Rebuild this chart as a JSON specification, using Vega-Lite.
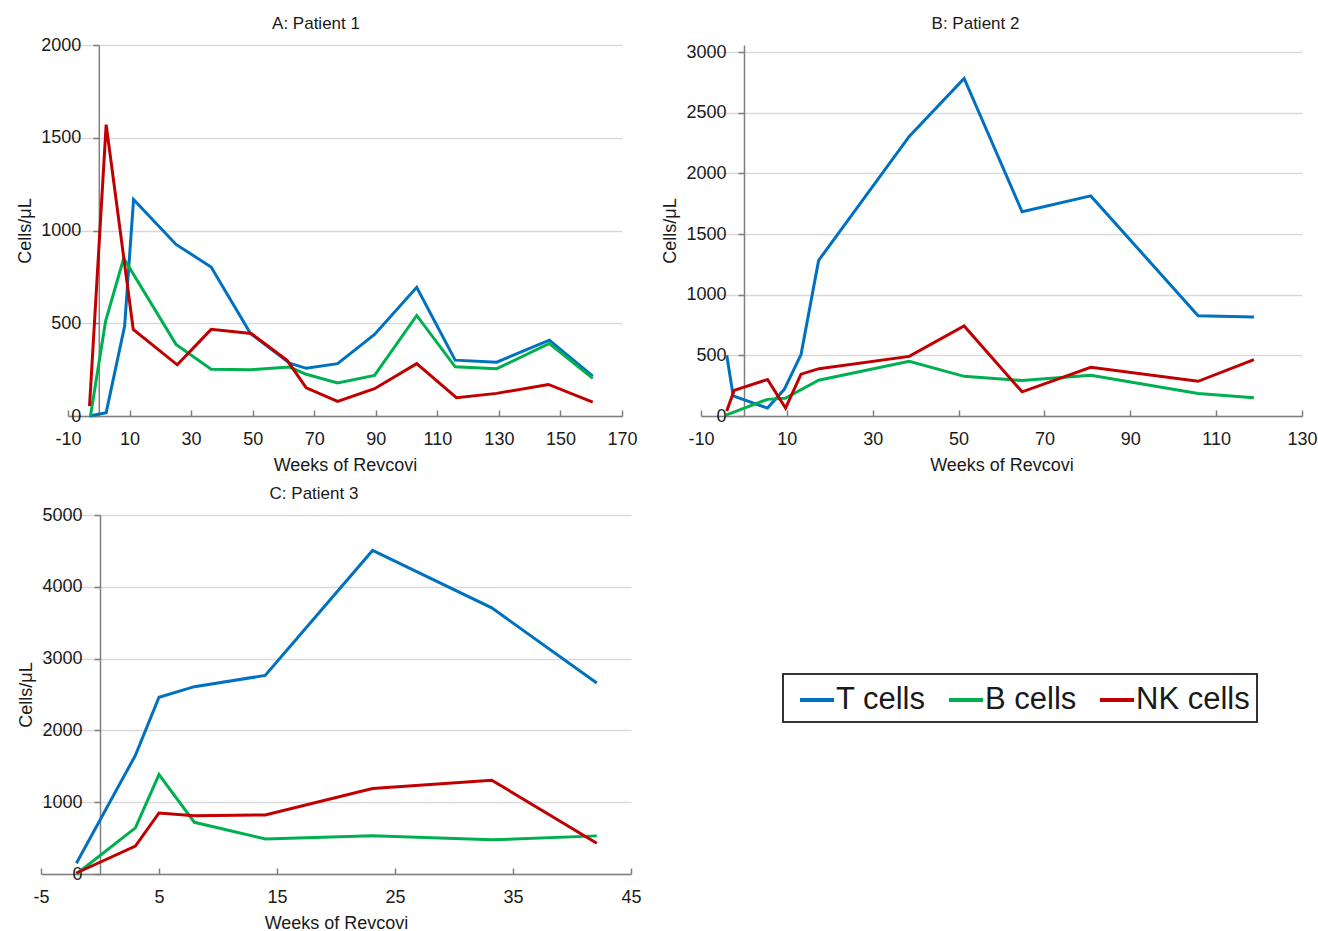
{
  "$schema": "https://vega.github.io/schema/vega-lite/v6.json",
  "background": "white",
  "padding": {"left": 15, "top": 14, "right": 0, "bottom": 0},
  "datasets": {
    "d": [
      {"p": "A", "c": "T cells", "w": -3, "v": 0},
      {"p": "A", "c": "T cells", "w": 2.4, "v": 18},
      {"p": "A", "c": "T cells", "w": 8.4, "v": 485},
      {"p": "A", "c": "T cells", "w": 11.3, "v": 1167},
      {"p": "A", "c": "T cells", "w": 25.1, "v": 925},
      {"p": "A", "c": "T cells", "w": 36.5, "v": 803},
      {"p": "A", "c": "T cells", "w": 49.3, "v": 445},
      {"p": "A", "c": "T cells", "w": 62, "v": 285},
      {"p": "A", "c": "T cells", "w": 67.4, "v": 257},
      {"p": "A", "c": "T cells", "w": 77.6, "v": 282},
      {"p": "A", "c": "T cells", "w": 89.6, "v": 440},
      {"p": "A", "c": "T cells", "w": 103.3, "v": 694},
      {"p": "A", "c": "T cells", "w": 115.8, "v": 301},
      {"p": "A", "c": "T cells", "w": 129.3, "v": 290},
      {"p": "A", "c": "T cells", "w": 146.4, "v": 409},
      {"p": "A", "c": "T cells", "w": 160.5, "v": 215},
      {"p": "A", "c": "B cells", "w": -2.7, "v": 0},
      {"p": "A", "c": "B cells", "w": 2.2, "v": 510},
      {"p": "A", "c": "B cells", "w": 8.1, "v": 850},
      {"p": "A", "c": "B cells", "w": 25.1, "v": 386},
      {"p": "A", "c": "B cells", "w": 36.5, "v": 252},
      {"p": "A", "c": "B cells", "w": 49.3, "v": 250},
      {"p": "A", "c": "B cells", "w": 62, "v": 264},
      {"p": "A", "c": "B cells", "w": 67.4, "v": 225},
      {"p": "A", "c": "B cells", "w": 77.6, "v": 178},
      {"p": "A", "c": "B cells", "w": 89.6, "v": 219},
      {"p": "A", "c": "B cells", "w": 103.3, "v": 542},
      {"p": "A", "c": "B cells", "w": 115.8, "v": 265},
      {"p": "A", "c": "B cells", "w": 129.3, "v": 255},
      {"p": "A", "c": "B cells", "w": 146.4, "v": 391},
      {"p": "A", "c": "B cells", "w": 160.5, "v": 203},
      {"p": "A", "c": "NK cells", "w": -3, "v": 54},
      {"p": "A", "c": "NK cells", "w": 2.4, "v": 1571},
      {"p": "A", "c": "NK cells", "w": 11.2, "v": 467},
      {"p": "A", "c": "NK cells", "w": 25.5, "v": 276},
      {"p": "A", "c": "NK cells", "w": 36.5, "v": 467},
      {"p": "A", "c": "NK cells", "w": 49.5, "v": 445},
      {"p": "A", "c": "NK cells", "w": 61.2, "v": 300},
      {"p": "A", "c": "NK cells", "w": 67.4, "v": 152},
      {"p": "A", "c": "NK cells", "w": 77.6, "v": 79},
      {"p": "A", "c": "NK cells", "w": 89.6, "v": 147},
      {"p": "A", "c": "NK cells", "w": 103.3, "v": 282},
      {"p": "A", "c": "NK cells", "w": 116.2, "v": 99},
      {"p": "A", "c": "NK cells", "w": 129.3, "v": 122},
      {"p": "A", "c": "NK cells", "w": 146.1, "v": 170},
      {"p": "A", "c": "NK cells", "w": 160.5, "v": 75},

      {"p": "B", "c": "T cells", "w": -4, "v": 500},
      {"p": "B", "c": "T cells", "w": -2.5, "v": 165},
      {"p": "B", "c": "T cells", "w": 5.5, "v": 65},
      {"p": "B", "c": "T cells", "w": 9.4, "v": 220},
      {"p": "B", "c": "T cells", "w": 13.3, "v": 506},
      {"p": "B", "c": "T cells", "w": 17.4, "v": 1282},
      {"p": "B", "c": "T cells", "w": 38.5, "v": 2304},
      {"p": "B", "c": "T cells", "w": 51.3, "v": 2782},
      {"p": "B", "c": "T cells", "w": 64.8, "v": 1683},
      {"p": "B", "c": "T cells", "w": 80.8, "v": 1814},
      {"p": "B", "c": "T cells", "w": 105.8, "v": 826},
      {"p": "B", "c": "T cells", "w": 118.8, "v": 815},
      {"p": "B", "c": "B cells", "w": -4.2, "v": 7},
      {"p": "B", "c": "B cells", "w": 5.5, "v": 137},
      {"p": "B", "c": "B cells", "w": 9.6, "v": 146},
      {"p": "B", "c": "B cells", "w": 17.4, "v": 295},
      {"p": "B", "c": "B cells", "w": 38.5, "v": 450},
      {"p": "B", "c": "B cells", "w": 51.3, "v": 327},
      {"p": "B", "c": "B cells", "w": 64.8, "v": 292},
      {"p": "B", "c": "B cells", "w": 80.8, "v": 335},
      {"p": "B", "c": "B cells", "w": 105.8, "v": 185},
      {"p": "B", "c": "B cells", "w": 118.8, "v": 150},
      {"p": "B", "c": "NK cells", "w": -4, "v": 41},
      {"p": "B", "c": "NK cells", "w": -2.3, "v": 211},
      {"p": "B", "c": "NK cells", "w": 5.5, "v": 301},
      {"p": "B", "c": "NK cells", "w": 9.7, "v": 65},
      {"p": "B", "c": "NK cells", "w": 13.3, "v": 345},
      {"p": "B", "c": "NK cells", "w": 17.5, "v": 390},
      {"p": "B", "c": "NK cells", "w": 38.5, "v": 491},
      {"p": "B", "c": "NK cells", "w": 51.3, "v": 742},
      {"p": "B", "c": "NK cells", "w": 64.8, "v": 199},
      {"p": "B", "c": "NK cells", "w": 80.8, "v": 401},
      {"p": "B", "c": "NK cells", "w": 105.8, "v": 286},
      {"p": "B", "c": "NK cells", "w": 118.8, "v": 464},

      {"p": "C", "c": "T cells", "w": -2, "v": 150},
      {"p": "C", "c": "T cells", "w": 3, "v": 1653},
      {"p": "C", "c": "T cells", "w": 5, "v": 2461},
      {"p": "C", "c": "T cells", "w": 8, "v": 2609},
      {"p": "C", "c": "T cells", "w": 14, "v": 2766},
      {"p": "C", "c": "T cells", "w": 23.1, "v": 4506},
      {"p": "C", "c": "T cells", "w": 33.2, "v": 3707},
      {"p": "C", "c": "T cells", "w": 42.1, "v": 2659},
      {"p": "C", "c": "B cells", "w": -2, "v": 0},
      {"p": "C", "c": "B cells", "w": 3, "v": 643},
      {"p": "C", "c": "B cells", "w": 5, "v": 1385},
      {"p": "C", "c": "B cells", "w": 8, "v": 720},
      {"p": "C", "c": "B cells", "w": 14, "v": 489},
      {"p": "C", "c": "B cells", "w": 23.1, "v": 531},
      {"p": "C", "c": "B cells", "w": 33.2, "v": 476},
      {"p": "C", "c": "B cells", "w": 42.1, "v": 531},
      {"p": "C", "c": "NK cells", "w": -2, "v": 14},
      {"p": "C", "c": "NK cells", "w": 3, "v": 388},
      {"p": "C", "c": "NK cells", "w": 5, "v": 850},
      {"p": "C", "c": "NK cells", "w": 8, "v": 813},
      {"p": "C", "c": "NK cells", "w": 14, "v": 822},
      {"p": "C", "c": "NK cells", "w": 23.1, "v": 1191},
      {"p": "C", "c": "NK cells", "w": 33.2, "v": 1307},
      {"p": "C", "c": "NK cells", "w": 42.1, "v": 429}
    ],
    "empty": []
  },
  "config": {
    "font": "Liberation Sans",
    "view": {"stroke": null},
    "title": {"fontSize": 17, "fontWeight": "normal", "color": "#1a1a1a", "font": "Liberation Sans"},
    "axis": {
      "labelFont": "Liberation Sans",
      "titleFont": "Liberation Sans",
      "labelFontSize": 18,
      "titleFontSize": 18,
      "titleFontWeight": "normal",
      "labelColor": "#1a1a1a",
      "titleColor": "#1a1a1a",
      "domainColor": "#808080",
      "domainWidth": 1.5,
      "tickColor": "#808080",
      "tickWidth": 1.5,
      "gridColor": "#d9d9d9",
      "gridWidth": 1.5,
      "labelExpr": "'' + datum.value"
    },
    "axisX": {"grid": false, "tickSize": -6, "labelPadding": 20, "titlePadding": 8.5, "labelOverlap": false, "labelFlush": false},
    "axisY": {"grid": true, "tickSize": 6, "labelPadding": 12, "titlePadding": 6},
    "legend": {"strokeWidth": 2}
  },
  "spacing": 9,
  "vconcat": [
    {
      "spacing": 23,
      "hconcat": [
        {
          "spacing": 0,
          "hconcat": [
            {"width": 1, "height": 1, "data": {"name": "empty"}, "mark": "point"},
            {
              "data": {"name": "d"},
              "title": {"text": "A: Patient 1", "offset": 3.5, "dx": -29},
              "width": 554,
              "height": 371,
              "transform": [{"filter": "datum.p == 'A'"}],
              "mark": {"type": "line", "strokeWidth": 3},
              "encoding": {
                "x": {"field": "w", "type": "quantitative", "scale": {"domain": [-10, 170], "nice": false, "zero": false},
                      "axis": {"values": [-10, 10, 30, 50, 70, 90, 110, 130, 150, 170], "title": "Weeks of Revcovi"}},
                "y": {"field": "v", "type": "quantitative", "scale": {"domain": [0, 2000], "nice": false},
                      "axis": {"values": [0, 500, 1000, 1500, 2000], "title": "Cells/μL", "offset": -30.8}},
                "color": {"field": "c", "type": "nominal",
                          "scale": {"domain": ["T cells", "B cells", "NK cells"], "range": ["#0070C0", "#00B050", "#C00000"]},
                          "legend": {"orient": "none", "legendX": 768, "legendY": 629, "direction": "horizontal", "title": null,
                                     "symbolType": "stroke", "symbolStrokeWidth": 4, "symbolSize": 1156,
                                     "labelFontSize": 31, "labelFont": "Liberation Sans", "labelColor": "#1a1a1a",
                                     "strokeColor": "#333333", "padding": 7, "columnPadding": 13, "labelOffset": 0, "symbolOffset": 8}}
              }
            }
          ]
        },
        {
          "data": {"name": "d"},
          "title": {"text": "B: Patient 2", "offset": 10.5, "dx": -26},
          "width": 601,
          "height": 371,
          "transform": [{"filter": "datum.p == 'B'"}],
          "mark": {"type": "line", "strokeWidth": 3},
          "encoding": {
            "x": {"field": "w", "type": "quantitative", "scale": {"domain": [-10, 130], "nice": false, "zero": false},
                  "axis": {"values": [-10, 10, 30, 50, 70, 90, 110, 130], "title": "Weeks of Revcovi"}},
            "y": {"field": "v", "type": "quantitative", "scale": {"domain": [0, 3057.7], "nice": false},
                  "axis": {"values": [0, 500, 1000, 1500, 2000, 2500, 3000], "title": "Cells/μL", "offset": -43}},
            "color": {"field": "c", "type": "nominal"}
          }
        }
      ]
    },
    {
      "spacing": 0,
      "hconcat": [
        {"width": 2, "height": 1, "data": {"name": "empty"}, "mark": "point"},
        {
          "data": {"name": "d"},
          "title": {"text": "C: Patient 3", "offset": 3.5, "dx": -22},
          "width": 590,
          "height": 359,
          "transform": [{"filter": "datum.p == 'C'"}],
          "mark": {"type": "line", "strokeWidth": 3},
          "encoding": {
            "x": {"field": "w", "type": "quantitative", "scale": {"domain": [-5, 45], "nice": false, "zero": false},
                  "axis": {"values": [-5, 5, 15, 25, 35, 45], "title": "Weeks of Revcovi"}},
            "y": {"field": "v", "type": "quantitative", "scale": {"domain": [0, 5000], "nice": false},
                  "axis": {"values": [0, 1000, 2000, 3000, 4000, 5000], "title": "Cells/μL", "offset": -59}},
            "color": {"field": "c", "type": "nominal"}
          }
        }
      ]
    }
  ]
}
